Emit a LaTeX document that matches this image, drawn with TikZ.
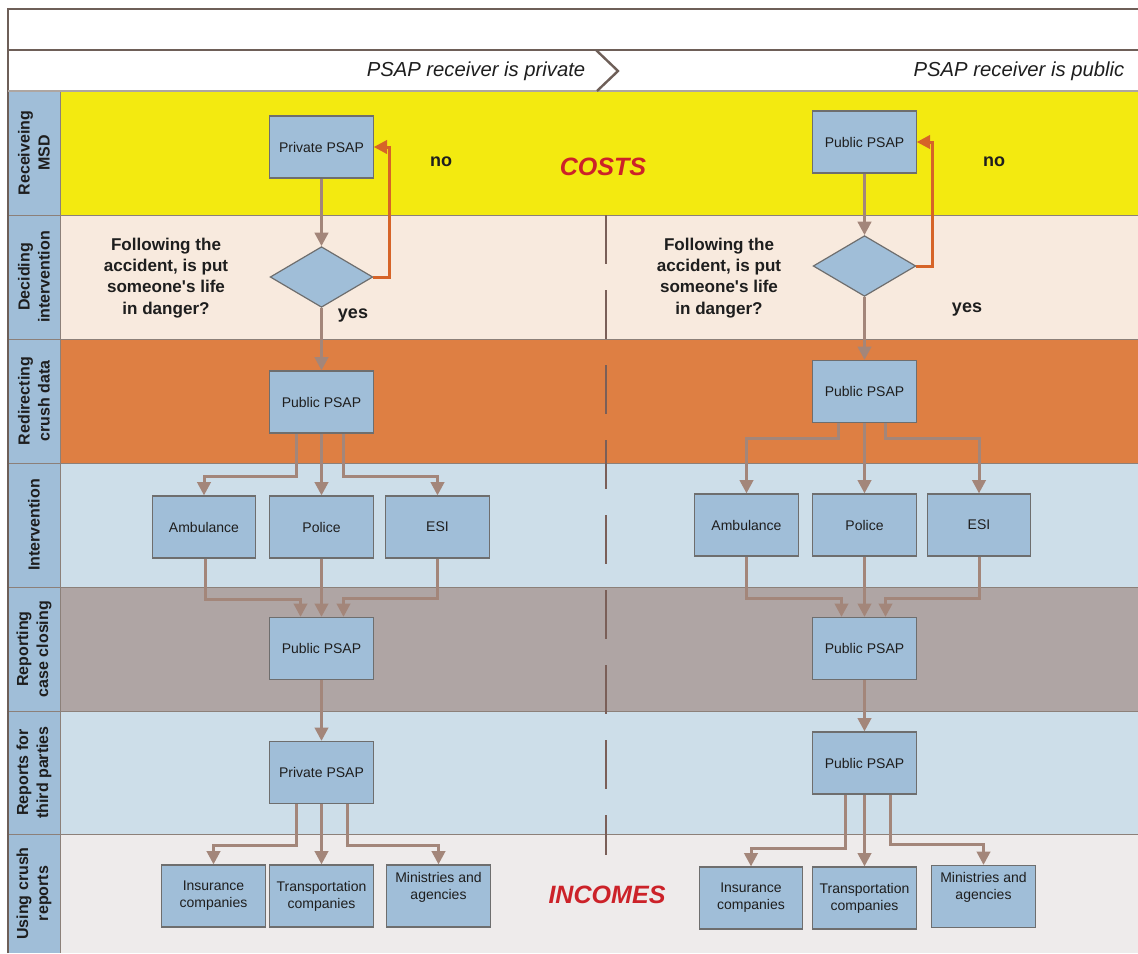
\documentclass[tikz,border=0pt]{standalone}
\usepackage{fontspec}
\setmainfont{Liberation Sans}
\usetikzlibrary{arrows.meta,shapes.geometric,calc}
\definecolor{laneY}{HTML}{F3EA10}
\definecolor{laneP}{HTML}{F8EADE}
\definecolor{laneO}{HTML}{DE7F43}
\definecolor{laneB}{HTML}{CDDEE9}
\definecolor{laneG}{HTML}{AFA5A4}
\definecolor{laneL}{HTML}{EEEBEB}
\definecolor{boxfill}{HTML}{A0BED8}
\definecolor{boxline}{HTML}{6E6E6E}
\definecolor{arrc}{HTML}{A3867A}
\definecolor{orarr}{HTML}{D66428}
\definecolor{redtxt}{HTML}{CC2229}
\definecolor{dashc}{HTML}{7A5F58}
\definecolor{hdrc}{HTML}{6E5F58}
\definecolor{sepc}{HTML}{8C8079}
\definecolor{txt}{HTML}{1E1E1E}
\begin{document}
\begin{tikzpicture}[x=0.75pt,y=-0.75pt,
  box/.style={draw=boxline, fill=boxfill, line width=0.9pt, minimum width=77.5pt, minimum height=46.5pt, inner sep=0pt, font=\fontsize{10.5}{12.75}\selectfont, text=txt, align=center},
  dia/.style={diamond, draw=boxline, fill=boxfill, line width=0.9pt, minimum width=77pt, minimum height=45.5pt, inner sep=0pt, aspect=1.67},
  arr/.style={draw=arrc, line width=2.25pt, -{Triangle[width=10pt,length=10pt]}},
  noarr/.style={draw=orarr, line width=2.25pt, -{Triangle[width=10pt,length=10pt]}},
  lanelab/.style={rotate=90, align=center, font=\fontsize{12}{15}\selectfont\bfseries, text=txt},
  qtext/.style={align=center, font=\fontsize{12.8}{15.9}\selectfont\bfseries, text=txt},
  yn/.style={font=\fontsize{13.5}{16}\selectfont\bfseries, text=txt},
  big/.style={font=\fontsize{18.8}{22}\selectfont\bfseries\itshape, text=redtxt},
  hdrtxt/.style={font=\fontsize{15.2}{17}\selectfont\itshape, text=txt, anchor=east},
  sep/.style={draw=sepc, line width=0.75pt}
]
\useasboundingbox (0,0) rectangle (1138,953);
\fill[white] (0,0) rectangle (1138,953);
% lanes
\fill[laneY] (60,91) rectangle (1138,215);
\fill[laneP] (60,215) rectangle (1138,339);
\fill[laneO] (60,339) rectangle (1138,463);
\fill[laneB] (60,463) rectangle (1138,587);
\fill[laneG] (60,587) rectangle (1138,711);
\fill[laneB] (60,711) rectangle (1138,834);
\fill[laneL] (60,834) rectangle (1138,953);
\fill[boxfill] (8,91) rectangle (60,953);
\foreach \yy in {215,339,463,587,711,834} \draw[sep] (8,\yy) -- (1138,\yy);
\draw[sep] (60,91) -- (60,953);
% header
\draw[hdrc, line width=1pt] (8,953) -- (8,9) -- (1138,9);
\draw[hdrc, line width=1pt] (8,50) -- (1138,50);
\draw[sepc!70, line width=1pt] (8,91) -- (1138,91);
\draw[hdrc, line width=1.8pt] (596,50) -- (618,71) -- (597,91);
\node[hdrtxt] (hpriv) at (590,71) {PSAP receiver is private};
\node[hdrtxt] (hpub) at (1129,71) {PSAP receiver is public};
% lane labels
\node[lanelab] (l1) at (34,153) {Receiveing\\MSD};
\node[lanelab] (l2) at (34,277) {Deciding\\intervention};
\node[lanelab] (l3) at (34,401) {Redirecting\\crush data};
\node[lanelab] (l4) at (34,525) {Intervention};
\node[lanelab] (l5) at (34,649) {Reporting\\case closing};
\node[lanelab] (l6) at (34,772.5) {Reports for\\third parties};
\node[lanelab] (l7) at (34,893.5) {Using crush\\reports};
% divider
\draw[dashc, line width=2.2pt, dash pattern=on 36.75pt off 19.5pt] (606,215) -- (606,855);
% big labels
\node[big] (costs) at (603,167) {COSTS};
\node[big] (incomes) at (607,895) {INCOMES};
% left column
\node[box] (lp1) at (321.5,147) {Private PSAP};
\node[dia] (ld) at (321.5,277) {};
\node[box] (lp2) at (321.5,402) {Public PSAP};
\node[box] (lamb) at (204,527) {Ambulance};
\node[box] (lpol) at (321.5,527) {Police};
\node[box] (lesi) at (437.5,527) {ESI};
\node[box] (lp3) at (321.5,648.5) {Public PSAP};
\node[box] (lp4) at (321.5,772.5) {Private PSAP};
\node[box] (lins) at (213.5,896) {Insurance\\companies};
\node[box] (ltra) at (321.5,896) {Transportation\\companies};
\node[box] (lmin) at (438.5,896) {\raisebox{0pt}[\height][\dimexpr\depth+13pt\relax]{\begin{tabular}{@{}c@{}}Ministries and\\agencies\end{tabular}}};
\node[qtext] (lq) at (166,278) {Following the\\accident, is put\\someone\textquotesingle s life\\in danger?};
\node[yn] (lno) at (441,162) {no};
\node[yn] (lyes) at (353,316) {yes};
% right column
\node[box] (rp1) at (864.5,142) {Public PSAP};
\node[dia] (rd) at (864.5,266) {};
\node[box] (rp2) at (864.5,391.5) {Public PSAP};
\node[box] (ramb) at (746.5,525) {Ambulance};
\node[box] (rpol) at (864.5,525) {Police};
\node[box] (resi) at (979,525) {ESI};
\node[box] (rp3) at (864.5,648.5) {Public PSAP};
\node[box] (rp4) at (864.5,763) {Public PSAP};
\node[box] (rins) at (751,898) {Insurance\\companies};
\node[box] (rtra) at (864.5,898) {Transportation\\companies};
\node[box] (rmin) at (983.5,896.5) {\raisebox{0pt}[\height][\dimexpr\depth+13pt\relax]{\begin{tabular}{@{}c@{}}Ministries and\\agencies\end{tabular}}};
\node[qtext] (rq) at (719,278) {Following the\\accident, is put\\someone\textquotesingle s life\\in danger?};
\node[yn] (rno) at (994,162) {no};
\node[yn] (ryes) at (967,310) {yes};
% left connectors
\draw[arr] (lp1.south) -- (ld.north);
\draw[noarr] (ld.east) -- ++(16,0) |- (lp1.east);
\draw[arr] (ld.south) -- (lp2.north);
\draw[arr] ($(lp2.south)+(-25.5,0)$) -- ++(0,43) -| (lamb.north);
\draw[arr] (lp2.south) -- (lpol.north);
\draw[arr] ($(lp2.south)+(21.5,0)$) -- ++(0,43) -| (lesi.north);
\draw[arr] ($(lamb.south)+(1,0)$) -- ++(0,41) -| ($(lp3.north)+(-21,0)$);
\draw[arr] (lpol.south) -- (lp3.north);
\draw[arr] (lesi.south) -- ++(0,40) -| ($(lp3.north)+(22,0)$);
\draw[arr] (lp3.south) -- (lp4.north);
\draw[arr] ($(lp4.south)+(-25.5,0)$) -- ++(0,41) -| (lins.north);
\draw[arr] (lp4.south) -- (ltra.north);
\draw[arr] ($(lp4.south)+(25.5,0)$) -- ++(0,41) -| (lmin.north);
% right connectors
\draw[arr] (rp1.south) -- (rd.north);
\draw[noarr] (rd.east) -- ++(16,0) |- (rp1.east);
\draw[arr] (rd.south) -- (rp2.north);
\draw[arr] ($(rp2.south)+(-26,0)$) -- ++(0,15) -| (ramb.north);
\draw[arr] (rp2.south) -- (rpol.north);
\draw[arr] ($(rp2.south)+(21,0)$) -- ++(0,15) -| (resi.north);
\draw[arr] (ramb.south) -- ++(0,42) -| ($(rp3.north)+(-23,0)$);
\draw[arr] (rpol.south) -- (rp3.north);
\draw[arr] (resi.south) -- ++(0,42) -| ($(rp3.north)+(21,0)$);
\draw[arr] (rp3.south) -- (rp4.north);
\draw[arr] ($(rp4.south)+(-19.5,0)$) -- ++(0,54) -| (rins.north);
\draw[arr] (rp4.south) -- (rtra.north);
\draw[arr] ($(rp4.south)+(25.5,0)$) -- ++(0,50) -| (rmin.north);
\end{tikzpicture}
\end{document}
